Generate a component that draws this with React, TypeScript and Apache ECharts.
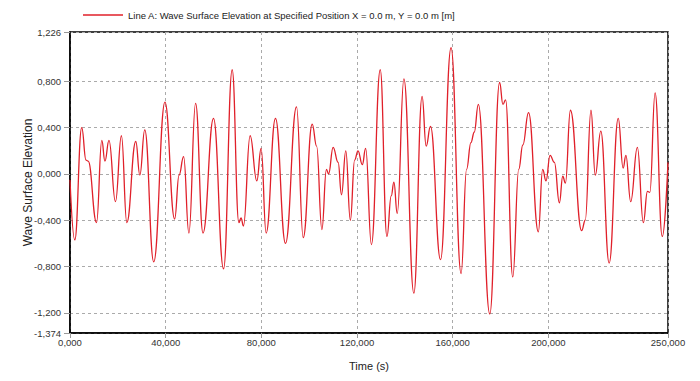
import React, { useEffect, useRef } from "react";
import * as echarts from "echarts";

const seriesName = "Line A: Wave Surface Elevation at Specified Position X = 0.0 m, Y = 0.0 m [m]";
const xTicks = [0, 40, 80, 120, 160, 200, 250];
const yTicks = [-1.374, -1.2, -0.8, -0.4, 0, 0.4, 0.8, 1.226];
const times = [0, 2.0, 4.9, 6.7, 7.6, 11.1, 13.3, 14.6, 16.3, 19.0, 21.5, 23.75, 27.5, 29.2, 31.25, 35.0, 39.7, 43.75, 45.6, 47.5, 49.7, 52.5, 55.6, 60.0, 64.2, 67.8, 70.6, 71.5, 72.5, 75.3, 78.1, 79.9, 82.0, 85.9, 90.1, 94.7, 97.5, 101.25, 103.1, 105.3, 107.2, 108.1, 110.0, 112.1, 113.5, 115.3, 117.2, 119.0, 120.4, 122.2, 123.6, 126.0, 129.7, 132.5, 134.3, 135.4, 136.8, 139.6, 143.75, 147.2, 148.9, 150.7, 154.9, 159.3, 163.5, 165.8, 167.6, 169.0, 170.7, 175.5, 179.6, 181.0, 182.1, 185.1, 187.6, 189.3, 191.7, 195.8, 197.6, 199.0, 200.7, 202.5, 204.6, 206.0, 207.1, 209.2, 213.9, 215.4, 217.8, 219.6, 221.9, 225.4, 229.2, 231.25, 232.4, 234.4, 237.2, 239.7, 241.4, 242.4, 244.6, 247.6, 250];
const elevation = [-0.05, -0.57, 0.40, 0.12, 0.11, -0.42, 0.29, 0.11, 0.29, -0.24, 0.33, -0.42, 0.28, -0.01, 0.38, -0.76, 0.62, -0.39, -0.01, 0.15, -0.51, 0.61, -0.51, 0.48, -0.82, 0.90, -0.42, -0.38, -0.45, 0.33, -0.06, 0.22, -0.51, 0.48, -0.60, 0.58, -0.55, 0.43, 0.24, -0.48, 0.04, 0.0, 0.23, 0.10, -0.18, 0.20, -0.40, 0.12, 0.20, 0.08, 0.22, -0.61, 0.90, -0.54, -0.19, -0.07, -0.34, 0.82, -1.03, 0.67, 0.24, 0.41, -0.74, 1.09, -0.86, 0.04, 0.27, 0.36, 0.60, -1.21, 0.79, 0.60, 0.64, -0.89, 0.04, 0.25, 0.53, -0.50, 0.04, -0.06, 0.16, 0.10, -0.25, -0.02, -0.08, 0.55, -0.49, -0.40, 0.55, -0.01, 0.37, -0.77, 0.48, 0.05, 0.16, -0.24, 0.23, -0.42, -0.15, -0.16, 0.70, -0.54, 0.10];

const FONT = "Liberation Sans";
const fmt = (v: number) => (Math.abs(v) < 1e-9 ? 0 : v).toFixed(3).replace(".", ",");

export default function App() {
  const ref = useRef<HTMLDivElement>(null);
  useEffect(() => {
    const chart = echarts.init(ref.current!, null, { renderer: "svg" });
    const data = times.map((t, i) => [t, elevation[i]]);
    chart.setOption({
      animation: false,
      textStyle: { fontFamily: FONT },
      legend: {
        left: 78,
        top: 5,
        itemWidth: 40,
        itemHeight: 1.5,
        itemGap: 6,
        icon: "rect",
        textStyle: { fontSize: 9.5, color: "#222", fontFamily: FONT },
        data: [seriesName],
      },
      grid: {
        left: 70,
        right: 32,
        top: 32,
        bottom: 48,
        show: true,
        borderColor: "#000",
        borderWidth: 1.5,
        backgroundColor: "#fff",
      },
      xAxis: {
        type: "value",
        min: 0,
        max: 250,
        name: "Time (s)",
        nameLocation: "middle",
        nameGap: 27,
        nameMoveOverlap: false,
        nameTextStyle: { fontSize: 11, color: "#222", fontFamily: FONT },
        axisLine: { show: true, onZero: false, lineStyle: { color: "#000", width: 1.5 } },
        axisTick: { show: true, length: 5, lineStyle: { color: "#999" }, customValues: xTicks },
        axisLabel: {
          fontSize: 9.5,
          color: "#333",
          margin: 4,
          customValues: xTicks,
          formatter: (v: number) => fmt(v),
        },
        splitLine: { show: true, lineStyle: { color: "#aaa", type: [3, 3], width: 1 } },
      },
      yAxis: {
        type: "value",
        min: -1.374,
        max: 1.226,
        name: "Wave Surface Elevation",
        nameLocation: "middle",
        nameGap: 36,
        nameMoveOverlap: false,
        nameTextStyle: { fontSize: 12, color: "#222", fontFamily: FONT },
        axisLine: { show: true, onZero: false, lineStyle: { color: "#000", width: 1.5 } },
        axisTick: { show: true, length: 6, lineStyle: { color: "#999" }, customValues: yTicks },
        axisLabel: {
          fontSize: 9.5,
          color: "#333",
          margin: 9,
          customValues: yTicks,
          formatter: (v: number) => fmt(v),
        },
        splitLine: { show: true, lineStyle: { color: "#aaa", type: [3, 3], width: 1 } },
      },
      series: [
        {
          name: seriesName,
          type: "line",
          data,
          symbol: "none",
          smooth: 0.45,
          smoothMonotone: "x",
          lineStyle: { color: "#e0202a", width: 1.3 },
          itemStyle: { color: "#e0202a" },
        },
      ],
    });
    return () => chart.dispose();
  }, []);
  return <div ref={ref} style={{ width: 700, height: 381, position: "absolute", left: 0, top: 0 }} />;
}
